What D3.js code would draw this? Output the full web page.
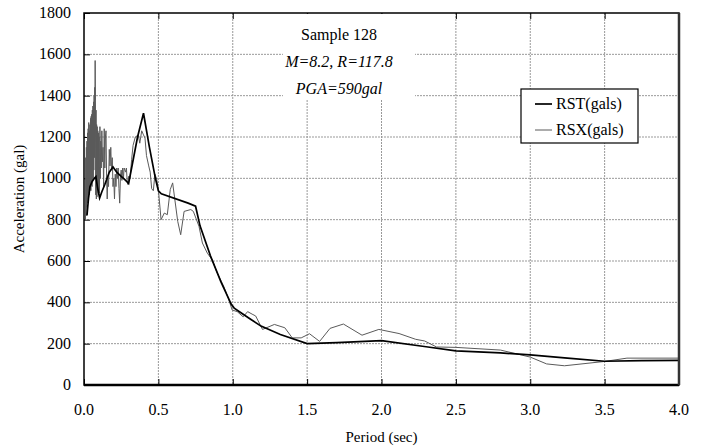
<!DOCTYPE html>
<html>
<head>
<meta charset="utf-8">
<script src="https://cdn.jsdelivr.net/npm/d3@7"></script>
<style>
  body { margin: 0; background: #fff; }
</style>
</head>
<body>
<svg id="chart" width="702" height="446" font-family="'Liberation Serif', 'Times New Roman', 'DejaVu Serif', serif"></svg>
<script>
// periods (sec) and spectral accelerations (gal)
const rstPeriod = [0.02, 0.03, 0.04, 0.055, 0.07, 0.08, 0.09, 0.105, 0.12, 0.14, 0.17, 0.195, 0.22, 0.25, 0.28, 0.30,
  0.32, 0.36, 0.40, 0.44, 0.48, 0.50, 0.52, 0.70, 0.75, 0.78, 0.85, 0.92, 0.99, 1.01, 1.05, 1.12, 1.19, 1.32, 1.50,
  1.70, 2.00, 2.30, 2.50, 2.80, 3.00, 3.25, 3.50, 3.75, 4.00];
const rstValue = [820, 900, 960, 985, 1000, 1008, 960, 905, 935, 970, 1030, 1055, 1030, 1010, 990, 975,
  1050, 1200, 1315, 1150, 1000, 940, 925, 880, 865, 770, 625, 500, 390, 372, 352, 318, 285, 244, 200,
  205, 215, 185, 165, 155, 146, 130, 115, 118, 119];

const rsxPeriod = [0.010, 0.012, 0.014, 0.016, 0.018, 0.020, 0.022, 0.024, 0.026, 0.028, 0.030, 0.032, 0.034, 0.036,
  0.038, 0.040, 0.042, 0.044, 0.046, 0.048, 0.050, 0.052, 0.054, 0.056, 0.058, 0.060, 0.062, 0.064, 0.066, 0.068,
  0.070, 0.072, 0.074, 0.075, 0.077, 0.079, 0.081, 0.083, 0.085, 0.087, 0.089, 0.091, 0.093, 0.095, 0.097, 0.099,
  0.101, 0.104, 0.107, 0.110, 0.113, 0.116, 0.120, 0.124, 0.128, 0.132, 0.136, 0.140, 0.144, 0.148, 0.152,
  0.156, 0.160, 0.165, 0.170, 0.175, 0.180, 0.185, 0.190, 0.195, 0.200, 0.205, 0.210, 0.215, 0.220, 0.225, 0.230,
  0.235, 0.240, 0.245, 0.250, 0.255, 0.260, 0.265, 0.270, 0.280, 0.285, 0.290, 0.295, 0.300, 0.310, 0.320, 0.330,
  0.345, 0.365, 0.375, 0.388, 0.400, 0.410, 0.420, 0.435, 0.445, 0.455, 0.466, 0.477, 0.489, 0.500, 0.518, 0.540,
  0.560, 0.580, 0.596, 0.630, 0.650, 0.673, 0.718, 0.735, 0.773, 0.796, 0.829, 0.862, 0.894, 0.940, 0.970, 0.996,
  1.030, 1.070, 1.100, 1.130, 1.154, 1.200, 1.280, 1.350, 1.400, 1.460, 1.516, 1.584, 1.654, 1.744, 1.869, 1.982,
  2.118, 2.230, 2.290, 2.370, 2.500, 2.800, 3.000, 3.110, 3.230, 3.500, 3.650, 4.000];
const rsxValue = [800, 1100, 820, 1150, 860, 1180, 880, 1220, 900, 1240, 930, 1270, 920, 1230,
  950, 1260, 960, 1290, 940, 1300, 980, 1310, 960, 1330, 990, 1350, 1000, 1370, 1040, 1400,
  1100, 1440, 1380, 1570, 1350, 920, 1330, 900, 1260, 910, 1250, 940, 1230, 930, 1220, 920,
  1200, 930, 1250, 1000, 1180, 1050, 1230, 1080, 1150, 960, 1240, 1050, 1200, 1230, 1000,
  900, 1000, 960, 1140, 1060, 1150, 1040, 1100, 960, 1000, 900, 1020, 960, 1050, 1000, 1050,
  950, 880, 1010, 1040, 990, 1050, 1000, 1050, 1030, 1050, 990, 970, 1010, 1000, 1090, 1160,
  1200, 1210, 1170, 1230, 1210, 1195, 1110, 1060, 1030, 950, 940, 1020, 995, 946, 800, 832,
  824, 946, 978, 792, 727, 840, 849, 840, 768, 687, 638, 606, 545, 476, 420, 363,
  355, 330, 355, 343, 334, 269, 293, 277, 228, 228, 248, 211, 274, 295, 241, 269,
  249, 221, 213, 184, 182, 169, 135, 102, 93, 114, 130, 130];

const xTicks = [0, 0.5, 1, 1.5, 2, 2.5, 3, 3.5, 4];
const yTicks = [0, 200, 400, 600, 800, 1000, 1200, 1400, 1600, 1800];

const svg = d3.select('#chart');
const plot = { left: 84, right: 679, top: 13, bottom: 385 };
const x = d3.scaleLinear().domain([0, 4]).range([plot.left, plot.right]);
const y = d3.scaleLinear().domain([0, 1800]).range([plot.bottom, plot.top]);

// grid
svg.append('g').selectAll('line').data(xTicks.slice(1, -1)).enter().append('line')
  .attr('x1', d => x(d)).attr('x2', d => x(d)).attr('y1', plot.top).attr('y2', plot.bottom)
  .attr('stroke', '#999').attr('stroke-dasharray', '2,1');
svg.append('g').selectAll('line').data(yTicks.slice(1, -1)).enter().append('line')
  .attr('x1', plot.left).attr('x2', plot.right).attr('y1', d => y(d)).attr('y2', d => y(d))
  .attr('stroke', '#999').attr('stroke-dasharray', '2,1');

// axes (inward ticks, labels drawn separately)
svg.append('g').attr('transform', `translate(0,${plot.bottom})`)
  .call(d3.axisTop(x).tickValues(xTicks).tickSize(6).tickFormat(''))
  .call(g => g.select('.domain').remove());
svg.append('g').attr('transform', `translate(0,${plot.top})`)
  .call(d3.axisBottom(x).tickValues(xTicks).tickSize(6).tickFormat(''))
  .call(g => g.select('.domain').remove());
svg.append('g').attr('transform', `translate(${plot.left},0)`)
  .call(d3.axisRight(y).tickValues(yTicks).tickSize(6).tickFormat(''))
  .call(g => g.select('.domain').remove());

svg.append('g').selectAll('text').data(xTicks).enter().append('text')
  .attr('x', d => x(d)).attr('y', plot.bottom + 30).attr('text-anchor', 'middle')
  .attr('font-size', '16px').text(d => d.toFixed(1));
svg.append('g').selectAll('text').data(yTicks).enter().append('text')
  .attr('x', plot.left - 13).attr('y', d => y(d) + 5).attr('text-anchor', 'end')
  .attr('font-size', '16px').text(d => d);

svg.append('text').attr('x', (plot.left + plot.right) / 2).attr('y', plot.bottom + 57).attr('text-anchor', 'middle')
  .attr('font-size', '15px').text('Period (sec)');
svg.append('text').attr('transform', `translate(24,${(plot.top + plot.bottom) / 2}) rotate(-90)`)
  .attr('text-anchor', 'middle').attr('font-size', '15px').text('Acceleration (gal)');

// info box
svg.append('rect').attr('x', 283).attr('y', plot.top + 1).attr('width', 132).attr('height', 86).attr('fill', '#fff');
const info = svg.append('g').attr('text-anchor', 'middle').attr('font-size', '16px');
info.append('text').attr('x', 339).attr('y', 40).text('Sample 128');
info.append('text').attr('x', 339).attr('y', 67).attr('font-style', 'italic').text('M=8.2, R=117.8');
info.append('text').attr('x', 339).attr('y', 94).attr('font-style', 'italic').text('PGA=590gal');

// series
const line = d3.line().x(d => x(d[0])).y(d => y(d[1]));
svg.append('path').datum(d3.zip(rsxPeriod, rsxValue)).attr('d', line)
  .attr('fill', 'none').attr('stroke', '#5a5a5a').attr('stroke-width', 1);
svg.append('path').datum(d3.zip(rstPeriod, rstValue)).attr('d', line)
  .attr('fill', 'none').attr('stroke', '#000').attr('stroke-width', 1.7);

// frame
svg.append('rect').attr('x', plot.left).attr('y', plot.top).attr('width', plot.right - plot.left)
  .attr('height', plot.bottom - plot.top).attr('fill', 'none').attr('stroke', '#000').attr('stroke-width', 1.5);
svg.append('line').attr('x1', plot.left).attr('x2', plot.right).attr('y1', plot.bottom).attr('y2', plot.bottom)
  .attr('stroke', '#000').attr('stroke-width', 2.5);
svg.append('line').attr('x1', plot.right).attr('x2', plot.right).attr('y1', plot.top).attr('y2', plot.bottom)
  .attr('stroke', '#333').attr('stroke-width', 2.5);

// legend
const lg = svg.append('g');
lg.append('rect').attr('x', 521).attr('y', 89).attr('width', 117).attr('height', 54)
  .attr('fill', '#fff').attr('stroke', '#000').attr('stroke-width', 1.2);
[['RST(gals)', '#000', 1.7], ['RSX(gals)', '#5a5a5a', 1]].forEach(([name, color, w], i) => {
  const cy = 104 + i * 26;
  lg.append('line').attr('x1', 535).attr('x2', 552).attr('y1', cy).attr('y2', cy)
    .attr('stroke', color).attr('stroke-width', w);
  lg.append('text').attr('x', 556).attr('y', cy + 5).attr('font-size', '16px').text(name);
});
</script>
</body>
</html>
